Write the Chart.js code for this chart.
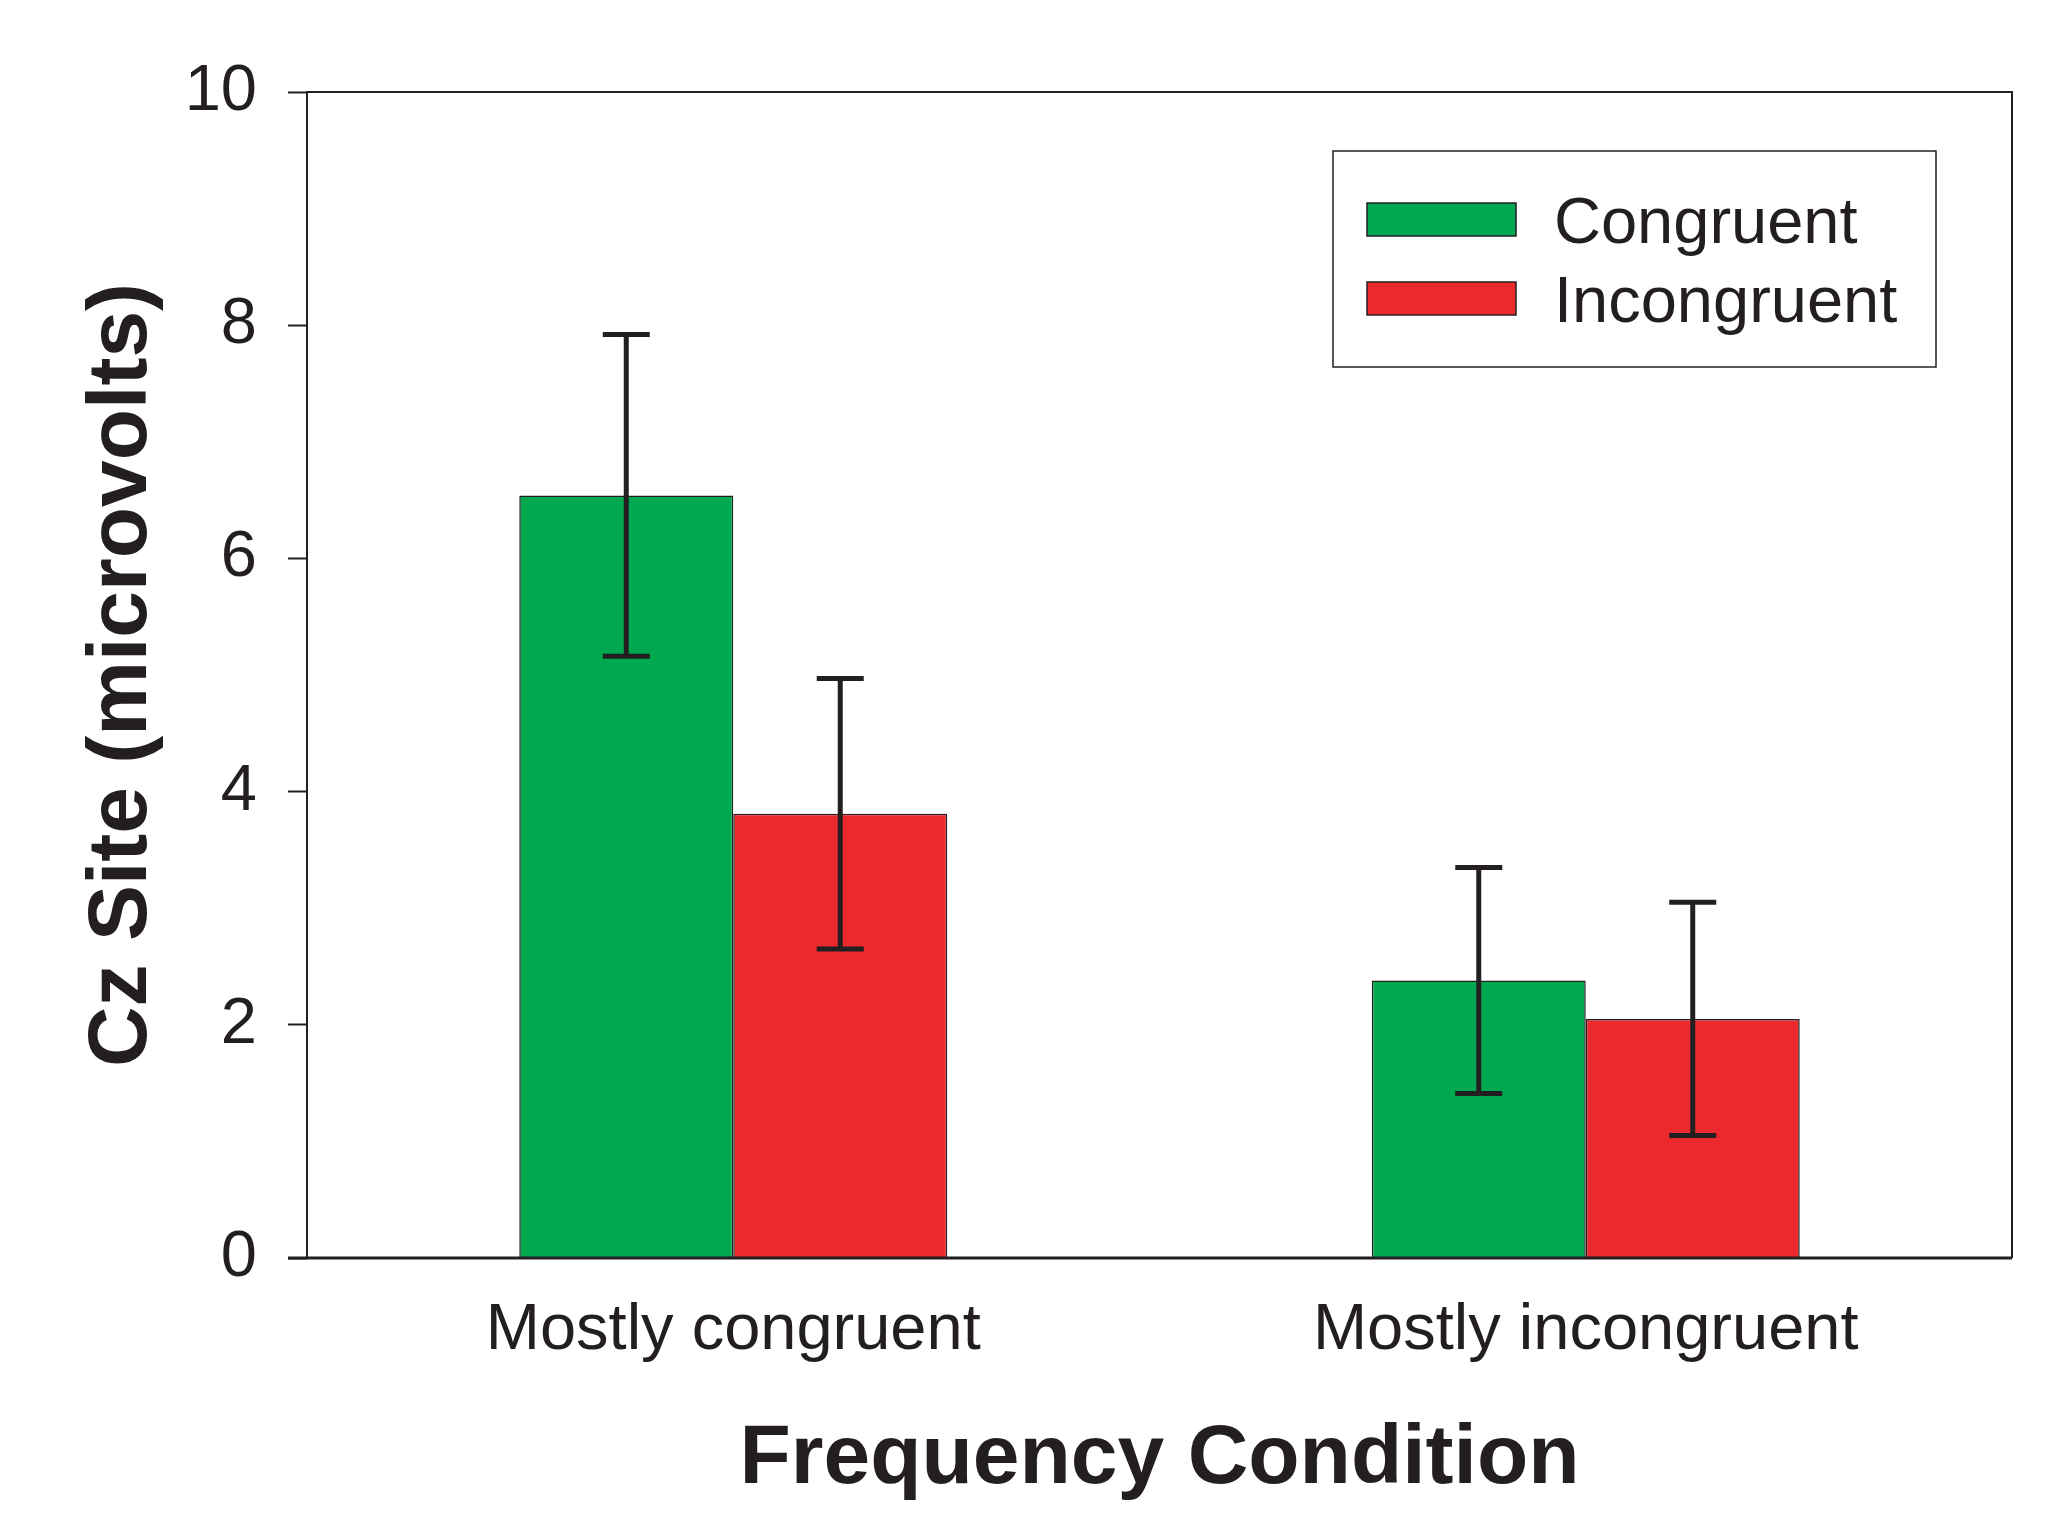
<!DOCTYPE html>
<html>
<head>
<meta charset="utf-8">
<script src="https://cdn.jsdelivr.net/npm/chart.js@4.4.0/dist/chart.umd.min.js"></script>
<style>
  html, body { margin: 0; padding: 0; background: #fff; }
  #wrap { width: 2055px; height: 1533px; }
</style>
</head>
<body>
<div id="wrap"><canvas id="chart" width="2055" height="1533"></canvas></div>
<script>
// Data
const categories = ["Mostly congruent", "Mostly incongruent"];
const seriesNames = ["Congruent", "Incongruent"];
const congruentMeans = [6.54, 2.38];
const incongruentMeans = [3.81, 2.05];
const congruentErr = [1.38, 0.97];
const incongruentErr = [1.16, 1.0];
const yTicks = [0, 2, 4, 6, 8, 10];

const ink = "#231f20";
const fontFamily = "'Liberation Sans', Arial, sans-serif";

// Error bars (mean +/- err) drawn on top of the bars
const errorBars = {
    id: "errorBars",
    afterDatasetsDraw(chart) {
        const ctx = chart.ctx;
        const y = chart.scales.y;
        chart.data.datasets.forEach((ds, i) => {
            const meta = chart.getDatasetMeta(i);
            meta.data.forEach((bar, j) => {
                const v = ds.data[j];
                const e = ds.errors[j];
                const top = y.getPixelForValue(v + e);
                const bot = y.getPixelForValue(v - e);
                ctx.save();
                ctx.strokeStyle = ink;
                ctx.lineWidth = 5;
                ctx.beginPath();
                ctx.moveTo(bar.x, top);
                ctx.lineTo(bar.x, bot);
                ctx.moveTo(bar.x - 23.5, top);
                ctx.lineTo(bar.x + 23.5, top);
                ctx.moveTo(bar.x - 23.5, bot);
                ctx.lineTo(bar.x + 23.5, bot);
                ctx.stroke();
                ctx.restore();
            });
        });
    }
};

// Box round the plot area
const frame = {
    id: "frame",
    afterDraw(chart) {
        const { left, right, top, bottom } = chart.chartArea;
        const ctx = chart.ctx;
        ctx.save();
        ctx.strokeStyle = ink;
        ctx.lineWidth = 2;
        ctx.beginPath();
        ctx.moveTo(left, bottom);
        ctx.lineTo(left, top);
        ctx.lineTo(right, top);
        ctx.lineTo(right, bottom);
        ctx.stroke();
        ctx.lineWidth = 3;
        ctx.beginPath();
        ctx.moveTo(left - 19, bottom);
        ctx.lineTo(right, bottom);
        ctx.stroke();
        ctx.restore();
    }
};

// Legend box inside the plot, top right
const boxLegend = {
    id: "boxLegend",
    afterDraw(chart) {
        const ctx = chart.ctx;
        const bx = 1333, by = 151, bw = 603, bh = 216;
        ctx.save();
        ctx.strokeStyle = ink;
        ctx.lineWidth = 1.5;
        ctx.strokeRect(bx, by, bw, bh);
        ctx.font = "65px " + fontFamily;
        ctx.textBaseline = "alphabetic";
        ctx.textAlign = "left";
        chart.data.datasets.forEach((ds, i) => {
            const sy = by + 52 + i * 79;
            ctx.fillStyle = ds.backgroundColor;
            ctx.fillRect(bx + 34, sy, 149, 33);
            ctx.lineWidth = 1.5;
            ctx.strokeStyle = ink;
            ctx.strokeRect(bx + 34, sy, 149, 33);
            ctx.fillStyle = ink;
            ctx.fillText(ds.label, bx + 221, sy + 16.5 + 23);
        });
        ctx.restore();
    }
};

new Chart(document.getElementById("chart"), {
    type: "bar",
    data: {
        labels: categories,
        datasets: [
            {
                label: seriesNames[0],
                data: congruentMeans,
                errors: congruentErr,
                backgroundColor: "#00a84f",
                borderColor: ink,
                borderWidth: 1.5
            },
            {
                label: seriesNames[1],
                data: incongruentMeans,
                errors: incongruentErr,
                backgroundColor: "#ec2a2e",
                borderColor: ink,
                borderWidth: 1.5
            }
        ]
    },
    options: {
        responsive: false,
        animation: false,
        devicePixelRatio: 1,
        categoryPercentage: 0.502,
        barPercentage: 1.0,
        layout: { padding: { left: 72, right: 43, top: 92, bottom: 23 } },
        plugins: {
            legend: { display: false },
            tooltip: { enabled: false }
        },
        scales: {
            x: {
                grid: { display: false, drawTicks: false },
                border: { display: false },
                ticks: {
                    color: ink,
                    padding: 34,
                    font: { family: fontFamily, size: 65 }
                },
                title: {
                    display: true,
                    text: "Frequency Condition",
                    color: ink,
                    padding: 0,
                    font: { family: fontFamily, size: 84, weight: "bold" }
                },
                afterFit: s => { s.height = 252; }
            },
            y: {
                min: 0,
                max: 10,
                afterBuildTicks: s => { s.ticks = yTicks.map(v => ({ value: v })); },
                grid: {
                    drawOnChartArea: false,
                    drawTicks: true,
                    tickLength: 19,
                    tickColor: ink,
                    tickWidth: 2
                },
                border: { display: false },
                ticks: {
                    color: ink,
                    padding: 31,
                    font: { family: fontFamily, size: 65 }
                },
                title: {
                    display: true,
                    text: "Cz Site (microvolts)",
                    color: ink,
                    padding: 0,
                    font: { family: fontFamily, size: 84, weight: "bold" }
                },
                afterFit: s => { s.width = 235; }
            }
        }
    },
    plugins: [errorBars, frame, boxLegend]
});
</script>
</body>
</html>
